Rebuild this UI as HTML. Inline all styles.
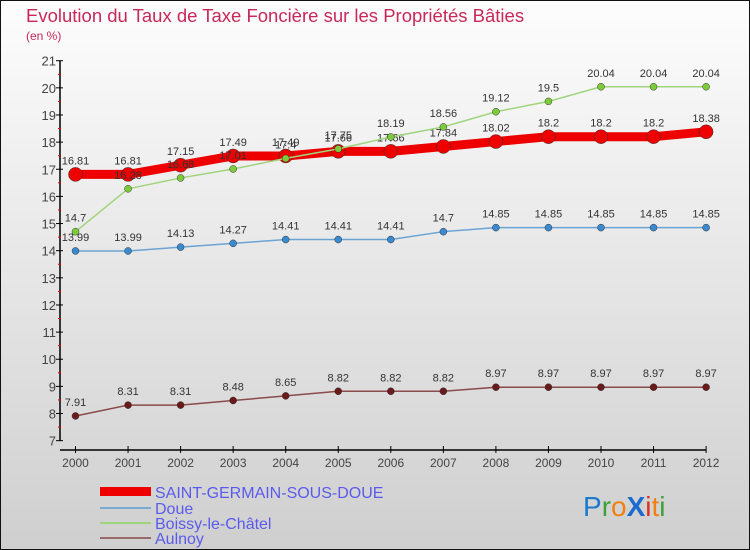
<!DOCTYPE html>
<html><head><meta charset="utf-8"><style>
body{margin:0;}
#wrap{position:relative;width:750px;height:550px;overflow:hidden;font-family:"Liberation Sans",sans-serif;}
svg{position:absolute;left:0;top:0;}
</style></head><body>
<div id="wrap">
<svg id="c" width="750" height="550">
<defs><linearGradient id="bg" x1="0" y1="0" x2="0" y2="1"><stop offset="0" stop-color="#fdfdfd"/><stop offset="1" stop-color="#cfcfcf"/></linearGradient></defs>
<rect x="0.5" y="0.5" width="749" height="549" fill="url(#bg)" stroke="#111"/>
<text x="26" y="22" font-size="18.5" fill="#c8285a">Evolution du Taux de Taxe Foncière sur les Propriétés Bâties</text>
<text x="26" y="40" font-size="12" fill="#c8285a">(en %)</text>
<g id="axes"></g><g id="series"></g>
<g>
<rect x="100" y="487" width="51" height="9" fill="#e00"/>
<text x="155" y="498" font-size="16" fill="#5a5aee">SAINT-GERMAIN-SOUS-DOUE</text>
<rect x="100" y="507" width="51" height="2" fill="#7aaad0"/>
<text x="155" y="514" font-size="16" fill="#5a5aee">Doue</text>
<rect x="100" y="522" width="51" height="2" fill="#9ed47a"/>
<text x="155" y="529" font-size="16" fill="#5a5aee">Boissy-le-Châtel</text>
<rect x="100" y="537" width="51" height="2" fill="#9a6a6a"/>
<text x="155" y="544" font-size="16" fill="#5a5aee">Aulnoy</text>
</g>
<g font-size="28">
<text x="583" y="516"><tspan fill="#1a7ad0">P</tspan><tspan fill="#3aa03a">r</tspan><tspan fill="#f08010">o</tspan><tspan fill="#1a6ad0" font-weight="bold">X</tspan><tspan fill="#e03020">i</tspan><tspan fill="#f08010">t</tspan><tspan fill="#3aa03a">i</tspan></text>
</g>
</svg>
</div>
<script>
const years=[2000,2001,2002,2003,2004,2005,2006,2007,2008,2009,2010,2011,2012];
const saintGermain=[16.81,16.81,17.15,17.49,17.49,17.66,17.66,17.84,18.02,18.2,18.2,18.2,18.38];
const doue=[13.99,13.99,14.13,14.27,14.41,14.41,14.41,14.7,14.85,14.85,14.85,14.85,14.85];
const boissy=[14.7,16.28,16.68,17.01,17.4,17.75,18.19,18.56,19.12,19.5,20.04,20.04,20.04];
const aulnoy=[7.91,8.31,8.31,8.48,8.65,8.82,8.82,8.82,8.97,8.97,8.97,8.97,8.97];
const yTicks=[7,8,9,10,11,12,13,14,15,16,17,18,19,20,21];
const NS="http://www.w3.org/2000/svg";
const X=i=>75.5+i*52.55;
const Y=v=>60.7+(21-v)*27.14;
function mk(tag,attrs,parent){const e=document.createElementNS(NS,tag);for(const k in attrs)e.setAttribute(k,attrs[k]);parent.appendChild(e);return e;}
const ax=document.getElementById('axes');
let l=mk('line',{x1:60,y1:Y(21),x2:60,y2:Y(7),stroke:'#000','stroke-width':1.5},ax);


l=mk('line',{x1:60,y1:450,x2:X(12),y2:450,stroke:'#000','stroke-width':1.5},ax);


yTicks.forEach(v=>{
  mk('line',{x1:56,y1:Y(v),x2:63,y2:Y(v),stroke:'#000'},ax);
  if(v<21)mk('line',{x1:58,y1:Y(v+0.5),x2:61,y2:Y(v+0.5),stroke:'#e00'},ax);
  const t=mk('text',{x:56,y:Y(v)+5,'text-anchor':'end','font-size':13,fill:'#444'},ax);
  t.textContent=v;
  
  
});
years.forEach((yr,i)=>{
  mk('line',{x1:X(i),y1:446,x2:X(i),y2:453,stroke:'#000'},ax);
  const t=mk('text',{x:X(i),y:467,'text-anchor':'middle','font-size':12,fill:'#444'},ax);
  t.textContent=yr;
  
  
});
const sg=document.getElementById('series');
function draw(name,vals,color,w,r,dot){
  const g=mk('g',{},sg);
  
  
  const p=mk('polyline',{points:vals.map((v,i)=>X(i)+','+Y(v)).join(' '),fill:'none',stroke:color,'stroke-width':w,'stroke-linejoin':'round'},g);
  
  
  vals.forEach((v,i)=>{
    const c=mk('circle',{cx:X(i),cy:Y(v),r:r,fill:dot,stroke:'#333','stroke-width':0.5},g);
    
    
    const t=mk('text',{x:X(i),y:Y(v)-10,'text-anchor':'middle','font-size':11,fill:'#333'},g);
    t.textContent=v;
    
    
  });
}
draw('aulnoy',aulnoy,'#8a4a4a',1.5,3.5,'#6a1a1a');
draw('doue',doue,'#6aa4d4',1.5,3.5,'#3a8ad0');
draw('saint-germain',saintGermain,'#e00',9,7,'#e00');
draw('boissy',boissy,'#9ed47a',1.5,3.5,'#7ccc3a');
</script>
</body></html>
